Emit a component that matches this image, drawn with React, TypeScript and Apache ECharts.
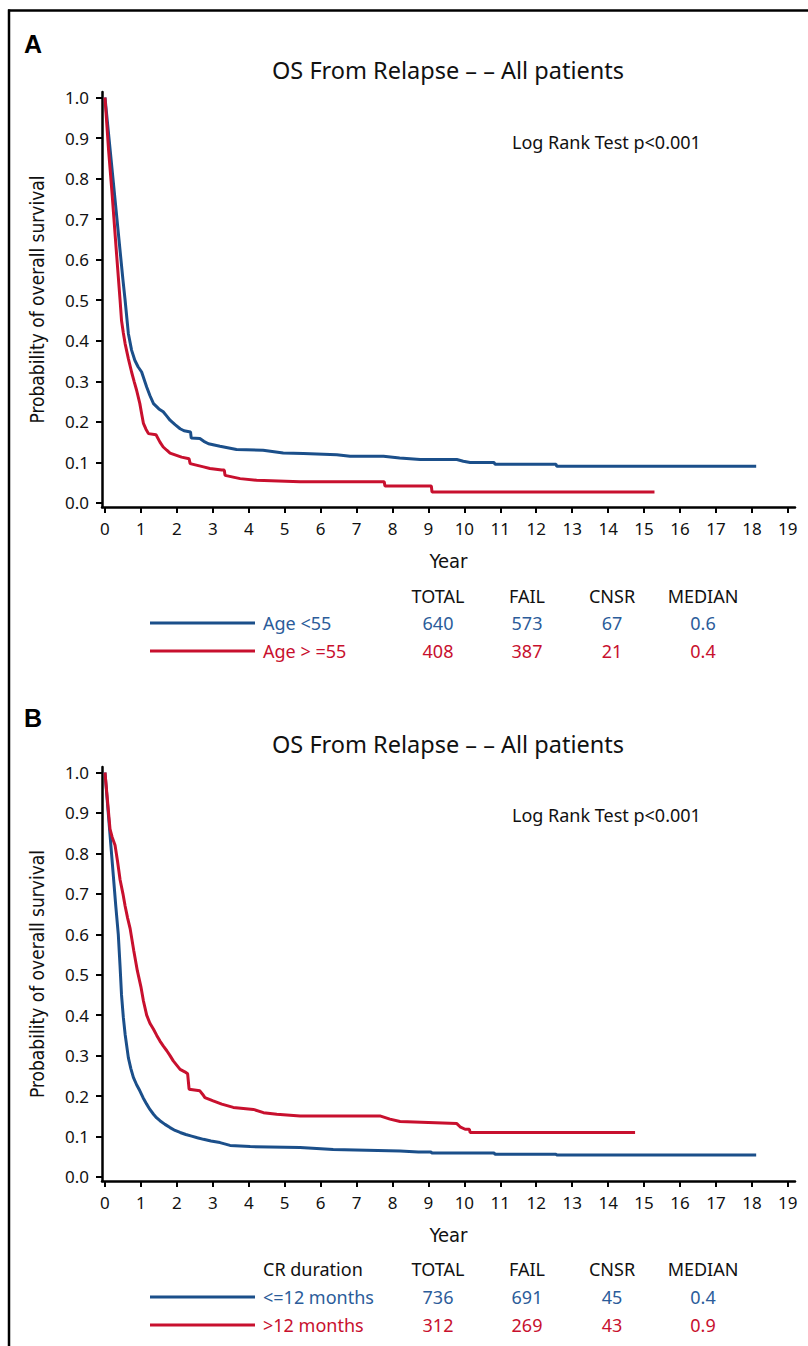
import React, { useEffect, useRef } from "react";
import * as echarts from "echarts";

const BLUE = "#1b4f8a";
const RED = "#c8102e";
const BLUE_TXT = "#2b5c9a";
const RED_TXT = "#c8102e";

const xTicks = [0, 1, 2, 3, 4, 5, 6, 7, 8, 9, 10, 11, 12, 13, 14, 15, 16, 17, 18, 19];
const yTicks = [0, 0.1, 0.2, 0.3, 0.4, 0.5, 0.6, 0.7, 0.8, 0.9, 1.0];

const titleText = "OS From Relapse – – All patients";
const logRankText = "Log Rank Test p<0.001";
const tableHeaders = ["TOTAL", "FAIL", "CNSR", "MEDIAN"];

// Panel A: Age
const ageUnder55: [number, number][] = [
  [0, 1.0], [0.5, 0.55], [0.56, 0.5], [0.65, 0.418], [0.74, 0.377], [0.83, 0.352], [0.92, 0.336],
  [1.02, 0.323], [1.16, 0.286], [1.25, 0.265], [1.35, 0.245], [1.5, 0.232], [1.62, 0.225],
  [1.72, 0.214], [1.81, 0.204], [1.95, 0.193], [2.09, 0.183], [2.2, 0.178], [2.38, 0.175],
  [2.4, 0.16], [2.64, 0.159], [2.75, 0.152], [2.88, 0.146], [3.2, 0.14], [3.66, 0.132],
  [4.4, 0.13], [4.96, 0.123], [5.52, 0.122], [6.45, 0.119], [6.82, 0.115], [7.75, 0.115],
  [8.2, 0.111], [8.77, 0.107], [9.79, 0.107], [9.97, 0.103], [10.16, 0.0997], [10.83, 0.0997],
  [10.85, 0.0955], [12.55, 0.0955], [12.57, 0.0906], [18.12, 0.0906],
];
const ageOver55: [number, number][] = [
  [0, 1.0], [0.1, 0.87], [0.2, 0.76], [0.3, 0.64], [0.42, 0.5], [0.46, 0.45], [0.51, 0.42],
  [0.56, 0.393], [0.65, 0.356], [0.74, 0.323], [0.81, 0.3], [0.88, 0.278], [0.97, 0.245],
  [1.02, 0.22], [1.07, 0.196], [1.14, 0.182], [1.21, 0.171], [1.42, 0.168], [1.53, 0.15],
  [1.62, 0.138], [1.72, 0.13], [1.81, 0.123], [2.13, 0.113], [2.34, 0.109], [2.37, 0.097],
  [2.74, 0.089], [2.92, 0.085], [3.25, 0.081], [3.32, 0.081], [3.34, 0.068], [3.76, 0.06],
  [4.22, 0.056], [5.43, 0.052], [7.77, 0.052], [7.79, 0.042], [9.08, 0.042], [9.1, 0.027],
  [15.29, 0.027],
];
const groupsA = ["Age <55", "Age > =55"];
const totalsA = [640, 408];
const failsA = [573, 387];
const cnsrA = [67, 21];
const mediansA = ["0.6", "0.4"];

// Panel B: CR duration
const crShort: [number, number][] = [
  [0, 1.0], [0.3, 0.67], [0.37, 0.6], [0.42, 0.52], [0.46, 0.45], [0.51, 0.395], [0.56, 0.353],
  [0.65, 0.295], [0.72, 0.268], [0.79, 0.246], [0.88, 0.228], [0.97, 0.213], [1.06, 0.196],
  [1.16, 0.18], [1.25, 0.167], [1.35, 0.155], [1.44, 0.146], [1.53, 0.139], [1.67, 0.13],
  [1.81, 0.122], [1.95, 0.115], [2.09, 0.11], [2.25, 0.105], [2.41, 0.101], [2.57, 0.097],
  [2.74, 0.093], [2.95, 0.089], [3.2, 0.085], [3.48, 0.078], [4.04, 0.075], [5.43, 0.073],
  [6.35, 0.068], [8.21, 0.064], [8.72, 0.062], [9.07, 0.062], [9.09, 0.059], [10.83, 0.059],
  [10.85, 0.056], [12.55, 0.056], [12.57, 0.054], [18.12, 0.054],
];
const crLong: [number, number][] = [
  [0, 1.0], [0.14, 0.86], [0.2, 0.84], [0.28, 0.82], [0.35, 0.78], [0.42, 0.735], [0.5, 0.7],
  [0.56, 0.67], [0.63, 0.64], [0.7, 0.614], [0.8, 0.56], [0.9, 0.51], [1.0, 0.47], [1.07, 0.435],
  [1.16, 0.4], [1.25, 0.38], [1.35, 0.365], [1.44, 0.35], [1.53, 0.336], [1.62, 0.324],
  [1.72, 0.312], [1.81, 0.3], [1.9, 0.287], [2.0, 0.276], [2.09, 0.266], [2.22, 0.26],
  [2.3, 0.255], [2.34, 0.217], [2.64, 0.213], [2.72, 0.204], [2.78, 0.196], [3.01, 0.188],
  [3.25, 0.18], [3.57, 0.172], [4.13, 0.167], [4.41, 0.159], [4.78, 0.155], [5.43, 0.151],
  [7.65, 0.151], [7.93, 0.143], [8.21, 0.137], [9.79, 0.132], [9.88, 0.124], [10.02, 0.118],
  [10.14, 0.118], [10.16, 0.11], [14.75, 0.11],
];
const groupsB = ["<=12 months", ">12 months"];
const groupHeaderB = "CR duration";
const totalsB = [736, 312];
const failsB = [691, 269];
const cnsrB = [45, 43];
const mediansB = ["0.4", "0.9"];

const FONT = "'Noto Sans', 'Open Sans', sans-serif";
const NARROW = "'Liberation Sans Narrow', 'DejaVu Sans Condensed', sans-serif";

function makeXAxis(gridIndex: number) {
  return {
    type: "value",
    gridIndex,
    min: -0.083,
    max: 19.2,
    name: "Year",
    nameLocation: "middle",
    nameGap: 44,
    nameTextStyle: { fontSize: 20, fontFamily: NARROW, color: "#111" },
    axisLine: { show: true, onZero: false, lineStyle: { color: "#000", width: 2.5 } },
    axisTick: { show: true, customValues: xTicks, length: 6, lineStyle: { color: "#000", width: 2 } },
    axisLabel: { show: true, customValues: xTicks, fontSize: 17, color: "#111", fontFamily: FONT, margin: 13 },
    splitLine: { show: false },
  };
}

function makeYAxis(gridIndex: number) {
  return {
    type: "value",
    gridIndex,
    min: -0.01,
    max: 1.0136,
    name: "Probability of overall survival",
    nameLocation: "middle",
    nameRotate: 90,
    nameGap: 56,
    nameTextStyle: { fontSize: 19, fontFamily: NARROW, color: "#111" },
    axisLine: { show: true, onZero: false, lineStyle: { color: "#000", width: 2.5 } },
    axisTick: { show: true, customValues: yTicks, length: 6, lineStyle: { color: "#000", width: 2 } },
    axisLabel: {
      show: true,
      customValues: yTicks,
      fontSize: 17,
      color: "#111",
      fontFamily: FONT,
      margin: 13,
      formatter: (v: number) => v.toFixed(1),
    },
    splitLine: { show: false },
  };
}

function line(data: [number, number][], color: string, idx: number) {
  return {
    type: "line",
    xAxisIndex: idx,
    yAxisIndex: idx,
    data,
    showSymbol: false,
    symbol: "none",
    silent: true,
    lineStyle: { color, width: 3 },
    itemStyle: { color },
  };
}

function txt(x: number, y: number, text: string, opts: any = {}) {
  return {
    type: "text",
    x,
    y,
    silent: true,
    style: {
      text,
      fill: opts.fill || "#111",
      font: `${opts.weight || "normal"} ${opts.size || 18}px ${opts.family || FONT}`,
      textAlign: opts.align || "left",
      textVerticalAlign: "middle",
    },
  };
}

function table(
  headY: number,
  rowY: number[],
  groups: string[],
  totals: number[],
  fails: number[],
  cnsr: number[],
  medians: string[],
  groupHeader?: string
) {
  const cols = [438, 527, 612, 703];
  const els: any[] = [];
  if (groupHeader) els.push(txt(263, headY, groupHeader));
  tableHeaders.forEach((h, i) => els.push(txt(cols[i], headY, h, { align: "center" })));
  const colors = [BLUE_TXT, RED_TXT];
  const lineColors = [BLUE, RED];
  groups.forEach((g, r) => {
    const y = rowY[r];
    els.push({
      type: "line",
      silent: true,
      shape: { x1: 150, y1: y, x2: 255, y2: y },
      style: { stroke: lineColors[r], lineWidth: 3 },
    });
    els.push(txt(263, y, g, { fill: colors[r] }));
    const vals = [String(totals[r]), String(fails[r]), String(cnsr[r]), medians[r]];
    vals.forEach((v, i) => els.push(txt(cols[i], y, v, { fill: colors[r], align: "center" })));
  });
  return els;
}

export default function App() {
  const ref = useRef<HTMLDivElement>(null);
  useEffect(() => {
    if (!ref.current) return;
    const chart = echarts.init(ref.current, null, { renderer: "svg" });
    const graphics: any[] = [
      { type: "line", silent: true, shape: { x1: 9, y1: 9.5, x2: 9, y2: 1346 }, style: { stroke: "#000", lineWidth: 2.5 } },
      { type: "line", silent: true, shape: { x1: 8, y1: 10.5, x2: 808, y2: 10.5 }, style: { stroke: "#000", lineWidth: 2.5 } },
      txt(24, 44, "A", { weight: "bold", size: 25, family: "'Liberation Sans', Arial, sans-serif", fill: "#000" }),
      txt(448, 70, titleText, { size: 23.5, align: "center" }),
      txt(512, 142, logRankText, { size: 18 }),
      ...table(596, [623, 651], groupsA, totalsA, failsA, cnsrA, mediansA),
      txt(24, 718, "B", { weight: "bold", size: 25, family: "'Liberation Sans', Arial, sans-serif", fill: "#000" }),
      txt(448, 744, titleText, { size: 23.5, align: "center" }),
      txt(512, 815, logRankText, { size: 18 }),
      ...table(1269, [1297, 1325], groupsB, totalsB, failsB, cnsrB, mediansB, groupHeaderB),
    ];
    chart.setOption({
      animation: false,
      backgroundColor: "#fff",
      grid: [
        { left: 102, top: 92, width: 693, height: 415 },
        { left: 102, top: 767, width: 693, height: 414 },
      ],
      xAxis: [makeXAxis(0), makeXAxis(1)],
      yAxis: [makeYAxis(0), makeYAxis(1)],
      series: [
        line(ageUnder55, BLUE, 0),
        line(ageOver55, RED, 0),
        line(crShort, BLUE, 1),
        line(crLong, RED, 1),
      ],
      graphic: graphics,
    });
    return () => chart.dispose();
  }, []);
  return (
    <div
      ref={ref}
      style={{ position: "absolute", left: 0, top: 0, width: 808, height: 1346, background: "#fff" }}
    />
  );
}
